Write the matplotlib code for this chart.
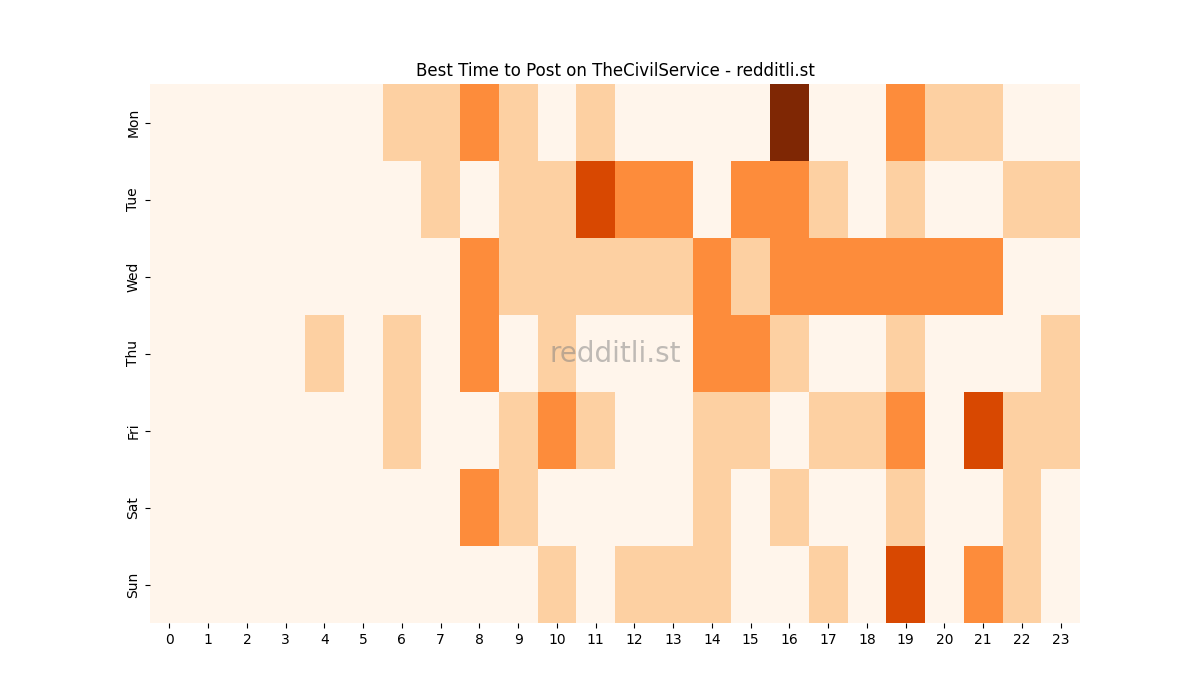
import matplotlib
matplotlib.use("Agg")
import matplotlib.pyplot as plt
import seaborn as sns
import numpy as np

days = ["Mon", "Tue", "Wed", "Thu", "Fri", "Sat", "Sun"]
hours = list(range(24))

mon = [0,0,0,0,0,0,1,1,2,1,0,1,0,0,0,0,4,0,0,2,1,1,0,0]
tue = [0,0,0,0,0,0,0,1,0,1,1,3,2,2,0,2,2,1,0,1,0,0,1,1]
wed = [0,0,0,0,0,0,0,0,2,1,1,1,1,1,2,1,2,2,2,2,2,2,0,0]
thu = [0,0,0,0,1,0,1,0,2,0,1,0,0,0,2,2,1,0,0,1,0,0,0,1]
fri = [0,0,0,0,0,0,1,0,0,1,2,1,0,0,1,1,0,1,1,2,0,3,1,1]
sat = [0,0,0,0,0,0,0,0,2,1,0,0,0,0,1,0,1,0,0,1,0,0,1,0]
sun = [0,0,0,0,0,0,0,0,0,0,1,0,1,1,1,0,0,1,0,3,0,2,1,0]

data = np.array([mon, tue, wed, thu, fri, sat, sun])

fig, ax = plt.subplots(figsize=(12, 7), dpi=100)
sns.heatmap(data, cmap="Oranges", vmin=0, vmax=4, cbar=False,
            xticklabels=hours, yticklabels=days, ax=ax)
ax.set_title("Best Time to Post on TheCivilService - redditli.st")
ax.text(0.5, 0.5, "redditli.st", transform=ax.transAxes, fontsize=20,
        color="gray", alpha=0.5, ha="center", va="center")
plt.setp(ax.get_xticklabels(), rotation=0)
plt.setp(ax.get_yticklabels(), rotation=90, va="center")
fig.savefig("out.png", dpi=100)
